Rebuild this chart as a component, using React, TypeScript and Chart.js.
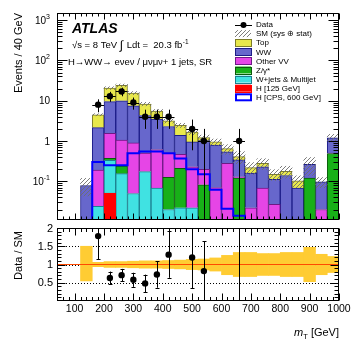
import React, { useEffect, useRef } from "react";
import { Chart, registerables } from "chart.js";

Chart.register(...registerables);

// ---------------- data ----------------
const binCenters = [140, 180, 220, 260, 300, 340, 380, 420, 460, 500, 540, 580, 620, 660, 700, 740, 780, 820, 860, 900, 940, 980];
const higgs125 = [0, 0, 0.051, 0, 0, 0, 0, 0, 0, 0, 0, 0, 0, 0, 0, 0, 0, 0, 0, 0, 0, 0];
const wjets = [0, 0.024, 0.279, 0.155, 0.05, 0.175, 0.068, 0.02, 0.022, 0.022, 0, 0, 0, 0, 0, 0, 0, 0, 0, 0, 0, 0];
const zjets = [0, 0, 0.04, 0.085, 0, 0, 0, 0.105, 0.188, 0, 0.082, 0, 0, 0.12, 0, 0, 0, 0, 0, 0.12, 0, 0.49];
const otherVV = [0, 0.166, 1.18, 0.81, 0.85, 0.325, 0.55, 0.395, 0.26, 0.208, 0.118, 0.07, 0.28, 0.01, 0.022, 0.068, 0.027, 0, 0, 0, 0.02, 0.01];
const ww = [0.079, 1.96, 7.95, 8.95, 6.6, 3.8, 2.88, 1.78, 0.92, 0.72, 0.82, 0.72, 0.26, 0.21, 0.138, 0.162, 0.086, 0.14, 0.068, 0.145, 0.077, 0.7];
const topQuark = [0, 2.35, 11.1, 14, 8, 4, 2, 0.85, 1.06, 0.73, 0.2, 0.16, 0.11, 0.07, 0.06, 0.05, 0.037, 0.038, 0.035, 0, 0, 0];
const smUncUp = [0.5, 0.06, 0.08, 0.08, 0.09, 0.1, 0.1, 0.11, 0.12, 0.14, 0.15, 0.18, 0.25, 0.33, 0.33, 0.3, 0.3, 0.33, 0.33, 0.47, 0.28, 0.22];
const smUncDown = [0.45, 0.06, 0.08, 0.08, 0.09, 0.1, 0.1, 0.11, 0.12, 0.14, 0.15, 0.18, 0.28, 0.33, 0.33, 0.3, 0.3, 0.33, 0.33, 0.47, 0.28, 0.22];

const hcpsCenters = [60, 100, 140, 180, 220, 260, 300, 340, 380, 420, 460, 500, 540, 580, 620, 660, 700];
const hcps600 = [0, 0, 0, 0, 0.3, 0.25, 0.25, 0.5, 0.55, 0.55, 0.5, 0.37, 0.2, 0.15, 0.062, 0.021, 0.014];

const dataX = [180, 220, 260, 300, 340, 380, 420, 500, 540, 660];
const dataEvents = [8, 13, 17, 9, 4, 4, 4, 2, 1, 1];
const dataErr = [2.83, 3.61, 4.12, 3, 2, 2, 2, 1.41, 1, 1];

const xTickValues = [100, 200, 300, 400, 500, 600, 700, 800, 900, 1000];
const yLogTickValues = [0.1, 1, 10, 100, 1000];
const yLogTickBase = ["10", "1", "10", "10", "10"];
const yLogTickExp = ["-1", "", "", "2", "3"];
const ratioTickValues = [0.5, 1, 1.5, 2];
const ratioTickText = ["0.5", "1", "1.5", "2"];
const legendLabels = ["Data", "SM (sys \u2295 stat)", "Top", "WW", "Other VV", "Z/\u03b3*", "W+jets & Multijet", "H [125 GeV]", "H [CPS, 600 GeV]"];

// ---------------- styling ----------------
const FONT = '"Liberation Sans", Arial, Helvetica, sans-serif';
const X_MIN = 40;
const X_MAX = 1000;
const BIN_HALF = 20;
const Y_MIN = 0.011;
const Y_MAX = 1500;

const COLORS = {
  h125: ["#ff0000", "#ff0000"],
  wjets: ["#40e2e2", "#1b7f8f"],
  z: ["#18b018", "#0b5a0b"],
  vv: ["#e645e6", "#6e1a86"],
  ww: ["#6767cc", "#1c1c88"],
  top: ["#e8e84c", "#7d7d28"],
};

function makeHatch(): any {
  const c = document.createElement("canvas");
  c.width = 4;
  c.height = 4;
  const g = c.getContext("2d")!;
  g.strokeStyle = "rgba(110,110,110,0.9)";
  g.lineWidth = 1;
  g.beginPath();
  g.moveTo(0, 4);
  g.lineTo(4, 0);
  g.moveTo(-1, 1);
  g.lineTo(1, -1);
  g.moveTo(3, 5);
  g.lineTo(5, 3);
  g.stroke();
  return g.createPattern(c, "repeat");
}

const errorBarPlugin = {
  id: "errbars",
  beforeDatasetDraw(chart: any, args: any) {
    const ds: any = chart.data.datasets[args.index];
    if (!ds.errY) return;
    const ctx = chart.ctx;
    const a = chart.chartArea;
    const xs = chart.scales.x;
    const ys = chart.scales.y;
    const isLog = ys.type === "logarithmic";
    ctx.save();
    ctx.beginPath();
    ctx.rect(a.left, a.top, a.right - a.left, a.bottom - a.top);
    ctx.clip();
    ctx.strokeStyle = "#000";
    ctx.lineWidth = 1;
    ctx.beginPath();
    ds.data.forEach((p: any, i: number) => {
      const e = ds.errY[i];
      const px = Math.round(xs.getPixelForValue(p.x)) + 0.5;
      const py = ys.getPixelForValue(p.y);
      const hi = ys.getPixelForValue(p.y + e);
      const loV = p.y - e;
      const lo = isLog && loV <= 0 ? a.bottom + 10 : ys.getPixelForValue(loV);
      ctx.moveTo(px, hi);
      ctx.lineTo(px, lo);
      if (ds.errX) {
        const x0 = xs.getPixelForValue(p.x - ds.errX);
        const x1 = xs.getPixelForValue(p.x + ds.errX);
        const yy = Math.round(py) + 0.5;
        ctx.moveTo(x0, yy);
        ctx.lineTo(x1, yy);
      }
      if (ds.capPx) {
        const c = ds.capPx;
        ctx.moveTo(px - c, Math.round(hi) + 0.5);
        ctx.lineTo(px + c, Math.round(hi) + 0.5);
        ctx.moveTo(px - c, Math.round(lo) + 0.5);
        ctx.lineTo(px + c, Math.round(lo) + 0.5);
      }
    });
    ctx.stroke();
    ctx.restore();
  },
};

function frameBox(a: any) {
  return {
    L: Math.round(a.left) + 0.5,
    R: Math.round(a.right) - 0.5,
    T: Math.round(a.top) + 0.5,
    B: Math.round(a.bottom) - 0.5,
  };
}

function drawXTicks(ctx: any, xs: any, f: any, majorLen: number, minorLen: number) {
  for (let v = X_MIN; v <= X_MAX; v += 20) {
    const len = v % 100 === 0 ? majorLen : minorLen;
    const px = Math.round(xs.getPixelForValue(v)) + 0.5;
    ctx.moveTo(px, f.B);
    ctx.lineTo(px, f.B - len);
    ctx.moveTo(px, f.T);
    ctx.lineTo(px, f.T + len);
  }
}

const mainDecor = {
  id: "mainDecor",
  afterDraw(chart: any) {
    const ctx = chart.ctx;
    const a = chart.chartArea;
    const xs = chart.scales.x;
    const ys = chart.scales.y;
    const f = frameBox(a);
    ctx.save();
    ctx.strokeStyle = "#000";
    ctx.lineWidth = 1;
    ctx.beginPath();
    drawXTicks(ctx, xs, f, 6, 3);
    for (let d = -2; d <= 3; d++) {
      for (let k = 1; k <= 9; k++) {
        const v = k * Math.pow(10, d);
        if (v < Y_MIN || v > Y_MAX) continue;
        const py = Math.round(ys.getPixelForValue(v)) + 0.5;
        const len = k === 1 ? 10 : 5;
        ctx.moveTo(f.L, py);
        ctx.lineTo(f.L + len, py);
        ctx.moveTo(f.R, py);
        ctx.lineTo(f.R - len, py);
      }
    }
    ctx.stroke();
    ctx.strokeRect(f.L, f.T, f.R - f.L, f.B - f.T);

    // y tick labels
    ctx.fillStyle = "#000";
    ctx.textBaseline = "alphabetic";
    const right = a.left - 7;
    yLogTickValues.forEach((v, i) => {
      const py = ys.getPixelForValue(v);
      ctx.font = `7px ${FONT}`;
      const we = yLogTickExp[i] ? ctx.measureText(yLogTickExp[i]).width : 0;
      ctx.font = `10px ${FONT}`;
      const wb = ctx.measureText(yLogTickBase[i]).width;
      ctx.fillText(yLogTickBase[i], right - we - wb, py + 3.6);
      if (yLogTickExp[i]) {
        ctx.font = `7px ${FONT}`;
        ctx.fillText(yLogTickExp[i], right - we, py - 1.5);
      }
    });

    // y title
    ctx.save();
    ctx.translate(19, a.top);
    ctx.rotate(-Math.PI / 2);
    ctx.font = `11px ${FONT}`;
    ctx.textAlign = "right";
    ctx.textBaseline = "middle";
    ctx.fillText("Events / 40 GeV", 0, 0);
    ctx.restore();

    // ATLAS label
    ctx.font = `italic bold 14px ${FONT}`;
    ctx.fillText("ATLAS", 72, 33);
    let x = 72;
    const y2 = 47.5;
    ctx.font = `9.5px ${FONT}`;
    const p1 = "\u221as = 8 TeV ";
    ctx.fillText(p1, x, y2);
    x += ctx.measureText(p1).width;
    ctx.font = `12px ${FONT}`;
    ctx.fillText("\u222b", x, y2 + 1);
    x += ctx.measureText("\u222b").width + 1;
    ctx.font = `9.5px ${FONT}`;
    const p3 = " Ldt =  20.3 fb";
    ctx.fillText(p3, x, y2);
    x += ctx.measureText(p3).width;
    ctx.font = `6.5px ${FONT}`;
    ctx.fillText("-1", x + 0.5, y2 - 4);
    ctx.font = `9.5px ${FONT}`;
    ctx.fillText("H\u2192WW\u2192 e\u03bde\u03bd / \u03bc\u03bd\u03bc\u03bd+ 1 jets, SR", 68, 65);

    // legend
    const bx = 235;
    const bw = 16;
    const bh = 7;
    const y0 = 24.5;
    const dy = 9.1;
    const styles: any[] = [null, "hatch", COLORS.top, COLORS.ww, COLORS.vv, COLORS.z, COLORS.wjets, COLORS.h125, "cps"];
    legendLabels.forEach((lab, i) => {
      const cy = y0 + i * dy;
      const st = styles[i];
      if (i === 0) {
        ctx.strokeStyle = "#000";
        ctx.lineWidth = 1;
        ctx.beginPath();
        ctx.moveTo(bx, Math.round(cy) + 0.5);
        ctx.lineTo(bx + bw + 1, Math.round(cy) + 0.5);
        ctx.stroke();
        ctx.fillStyle = "#000";
        ctx.beginPath();
        ctx.arc(bx + bw / 2 + 0.5, cy + 0.5, 3, 0, Math.PI * 2);
        ctx.fill();
      } else if (st === "hatch") {
        ctx.fillStyle = (chart as any).$hatch;
        ctx.fillRect(bx, cy - bh / 2, bw, bh);
      } else if (st === "cps") {
        ctx.fillStyle = "#fff";
        ctx.fillRect(bx, cy - bh / 2, bw, bh);
        ctx.strokeStyle = "#0000ff";
        ctx.lineWidth = 2;
        ctx.strokeRect(bx + 1, cy - bh / 2 + 0.5, bw - 1, bh - 1);
      } else {
        ctx.fillStyle = st[0];
        ctx.fillRect(bx, cy - bh / 2, bw, bh);
        ctx.strokeStyle = st[1];
        ctx.lineWidth = 1;
        ctx.strokeRect(bx + 0.5, Math.round(cy - bh / 2) + 0.5, bw, bh);
      }
      ctx.fillStyle = "#000";
      ctx.font = `8px ${FONT}`;
      ctx.textBaseline = "middle";
      ctx.textAlign = "left";
      ctx.fillText(lab, 256, cy + 0.5);
    });
    ctx.restore();
  },
};

const ratioDecor = {
  id: "ratioDecor",
  beforeDatasetsDraw(chart: any) {
    const ctx = chart.ctx;
    const a = chart.chartArea;
    const ys = chart.scales.y;
    ctx.save();
    ctx.strokeStyle = "#000";
    ctx.lineWidth = 1;
    ctx.setLineDash([1, 2]);
    ctx.beginPath();
    [0.5, 1, 1.5].forEach((v) => {
      const py = Math.round(ys.getPixelForValue(v)) + 0.5;
      ctx.moveTo(a.left, py);
      ctx.lineTo(a.right, py);
    });
    ctx.stroke();
    ctx.restore();
  },
  afterDraw(chart: any) {
    const ctx = chart.ctx;
    const a = chart.chartArea;
    const xs = chart.scales.x;
    const ys = chart.scales.y;
    const f = frameBox(a);
    ctx.save();
    ctx.strokeStyle = "#000";
    ctx.lineWidth = 1;
    ctx.beginPath();
    drawXTicks(ctx, xs, f, 7, 3.5);
    for (let i = 1; i <= 20; i++) {
      const v = i * 0.1;
      const major = i % 5 === 0;
      const len = major ? 8 : 4;
      const py = Math.round(ys.getPixelForValue(v)) + 0.5;
      ctx.moveTo(f.L, py);
      ctx.lineTo(f.L + len, py);
      ctx.moveTo(f.R, py);
      ctx.lineTo(f.R - len, py);
    }
    ctx.stroke();
    ctx.strokeRect(f.L, f.T, f.R - f.L, f.B - f.T);

    ctx.fillStyle = "#000";
    ctx.font = `11px ${FONT}`;
    ctx.textAlign = "right";
    ctx.textBaseline = "middle";
    ratioTickValues.forEach((v, i) => {
      ctx.fillText(ratioTickText[i], a.left - 4, ys.getPixelForValue(v) + 0.5);
    });
    ctx.font = `10.5px ${FONT}`;
    ctx.textAlign = "center";
    xTickValues.forEach((v) => {
      ctx.fillText(String(v), xs.getPixelForValue(v), a.bottom + 8.5);
    });

    // y title
    ctx.save();
    ctx.translate(19, a.top + 3);
    ctx.rotate(-Math.PI / 2);
    ctx.font = `11px ${FONT}`;
    ctx.textAlign = "right";
    ctx.textBaseline = "middle";
    ctx.fillText("Data / SM", 0, 0);
    ctx.restore();

    // x title: m_T [GeV]
    ctx.textAlign = "left";
    ctx.textBaseline = "alphabetic";
    const base = a.bottom + 35;
    ctx.font = `11px ${FONT}`;
    const tail = " [GeV]";
    const wTail = ctx.measureText(tail).width;
    ctx.font = `7.5px ${FONT}`;
    const wSub = ctx.measureText("T").width;
    ctx.font = `italic 11px ${FONT}`;
    const wM = ctx.measureText("m").width;
    let x = a.right - wTail - wSub - wM;
    ctx.fillText("m", x, base);
    x += wM;
    ctx.font = `7.5px ${FONT}`;
    ctx.fillText("T", x, base + 2.5);
    x += wSub;
    ctx.font = `11px ${FONT}`;
    ctx.fillText(tail, x, base);
    ctx.restore();
  },
};

const pos = (v: number) => (v > 0 ? v : null);

export default function App() {
  const topRef = useRef<HTMLCanvasElement>(null);
  const botRef = useRef<HTMLCanvasElement>(null);

  useEffect(() => {
    const hatch = makeHatch();
    const totals = binCenters.map(
      (_, i) => higgs125[i] + wjets[i] + zjets[i] + otherVV[i] + ww[i] + topQuark[i]
    );
    const stackDefs = [
      { label: "H [125 GeV]", values: higgs125, c: COLORS.h125 },
      { label: "W+jets & Multijet", values: wjets, c: COLORS.wjets },
      { label: "Z/\u03b3*", values: zjets, c: COLORS.z },
      { label: "Other VV", values: otherVV, c: COLORS.vv },
      { label: "WW", values: ww, c: COLORS.ww },
      { label: "Top", values: topQuark, c: COLORS.top },
    ];
    const barCommon = { barPercentage: 1, categoryPercentage: 1 };

    const stackSets = stackDefs.map((s, k) => ({
      type: "bar",
      label: s.label,
      data: binCenters.map((x, i) => ({ x, y: pos(s.values[i]) })),
      backgroundColor: s.c[0],
      borderColor: s.c[1],
      borderWidth: 1,
      stack: "sm",
      order: 10 + k,
      ...barCommon,
    }));

    const hatchSet = {
      type: "bar",
      label: "SM (sys \u2295 stat)",
      data: binCenters.map((x, i) => ({
        x,
        y: [totals[i] * (1 - smUncDown[i]), totals[i] * (1 + smUncUp[i])],
      })),
      backgroundColor: hatch,
      borderWidth: 0,
      stack: "unc",
      grouped: false,
      order: 3,
      ...barCommon,
    };

    const cpsPoints: any[] = hcpsCenters.map((c, i) => ({
      x: c - BIN_HALF,
      y: hcps600[i] > 0 ? hcps600[i] : Y_MIN,
    }));
    cpsPoints.push({ x: hcpsCenters[hcpsCenters.length - 1] + BIN_HALF, y: Y_MIN });

    const cpsSet = {
      type: "line",
      label: "H [CPS, 600 GeV]",
      data: cpsPoints,
      borderColor: "#0000ff",
      borderWidth: 2,
      pointRadius: 0,
      stepped: "after",
      fill: false,
      stack: "cps",
      order: 1,
    };

    const dataSet = {
      type: "line",
      label: "Data",
      data: dataX.map((x, i) => ({ x, y: dataEvents[i] })),
      showLine: false,
      pointRadius: 3.2,
      pointBackgroundColor: "#000",
      pointBorderColor: "#000",
      pointBorderWidth: 0,
      fill: false,
      stack: "data",
      order: 0,
      errY: dataErr,
      errX: BIN_HALF,
    };

    const xScale = {
      type: "linear",
      min: X_MIN,
      max: X_MAX,
      display: false,
      offset: false,
      grid: { offset: false },
      afterBuildTicks: (s: any) => {
        s.ticks = xTickValues.map((v) => ({ value: v }));
      },
    };

    const c1 = new Chart(topRef.current as any, {
      type: "bar",
      data: { datasets: [dataSet, cpsSet, hatchSet, ...stackSets] as any },
      options: {
        responsive: false,
        animation: false,
        devicePixelRatio: 1,
        events: [],
        layout: { padding: { left: 57, right: 18, top: 13, bottom: 2 } },
        scales: {
          x: { ...xScale, stacked: true },
          y: { type: "logarithmic", min: Y_MIN, max: Y_MAX, display: false, stacked: true },
        },
        plugins: { legend: { display: false }, tooltip: { enabled: false } },
      } as any,
      plugins: [errorBarPlugin, mainDecor],
    });
    (c1 as any).$hatch = hatch;
    c1.draw();

    const totalAt = (x: number) => totals[binCenters.indexOf(x)];
    const ratioSet = {
      type: "line",
      label: "Data / SM",
      data: dataX.map((x, i) => ({ x, y: dataEvents[i] / totalAt(x) })),
      showLine: false,
      pointRadius: 3.2,
      pointBackgroundColor: "#000",
      pointBorderColor: "#000",
      pointBorderWidth: 0,
      fill: false,
      order: 0,
      errY: dataX.map((x, i) => dataErr[i] / totalAt(x)),
      capPx: 2,
    };
    const unitySet = {
      type: "line",
      data: [
        { x: X_MIN, y: 1 },
        { x: X_MAX, y: 1 },
      ],
      borderColor: "#ff4a00",
      borderWidth: 1,
      pointRadius: 0,
      fill: false,
      order: 1,
    };
    const bandSet = {
      type: "bar",
      data: binCenters.map((x, i) => ({ x, y: [1 - smUncDown[i], 1 + smUncUp[i]] })),
      backgroundColor: "#ffcc33",
      borderWidth: 0,
      order: 2,
      ...barCommon,
    };

    const c2 = new Chart(botRef.current as any, {
      type: "bar",
      data: { datasets: [ratioSet, unitySet, bandSet] as any },
      options: {
        responsive: false,
        animation: false,
        devicePixelRatio: 1,
        events: [],
        layout: { padding: { left: 57, right: 18, top: 3, bottom: 42 } },
        scales: {
          x: xScale,
          y: { type: "linear", min: 0, max: 2, display: false },
        },
        plugins: { legend: { display: false }, tooltip: { enabled: false } },
      } as any,
      plugins: [errorBarPlugin, ratioDecor],
    });

    return () => {
      c1.destroy();
      c2.destroy();
    };
  }, []);

  return (
    <div style={{ position: "fixed", left: 0, top: 0, width: 357, height: 343, background: "#fff" }}>
      <canvas ref={topRef} width={357} height={224} style={{ display: "block", width: 357, height: 224 }} />
      <canvas ref={botRef} width={357} height={119} style={{ display: "block", width: 357, height: 119 }} />
    </div>
  );
}
